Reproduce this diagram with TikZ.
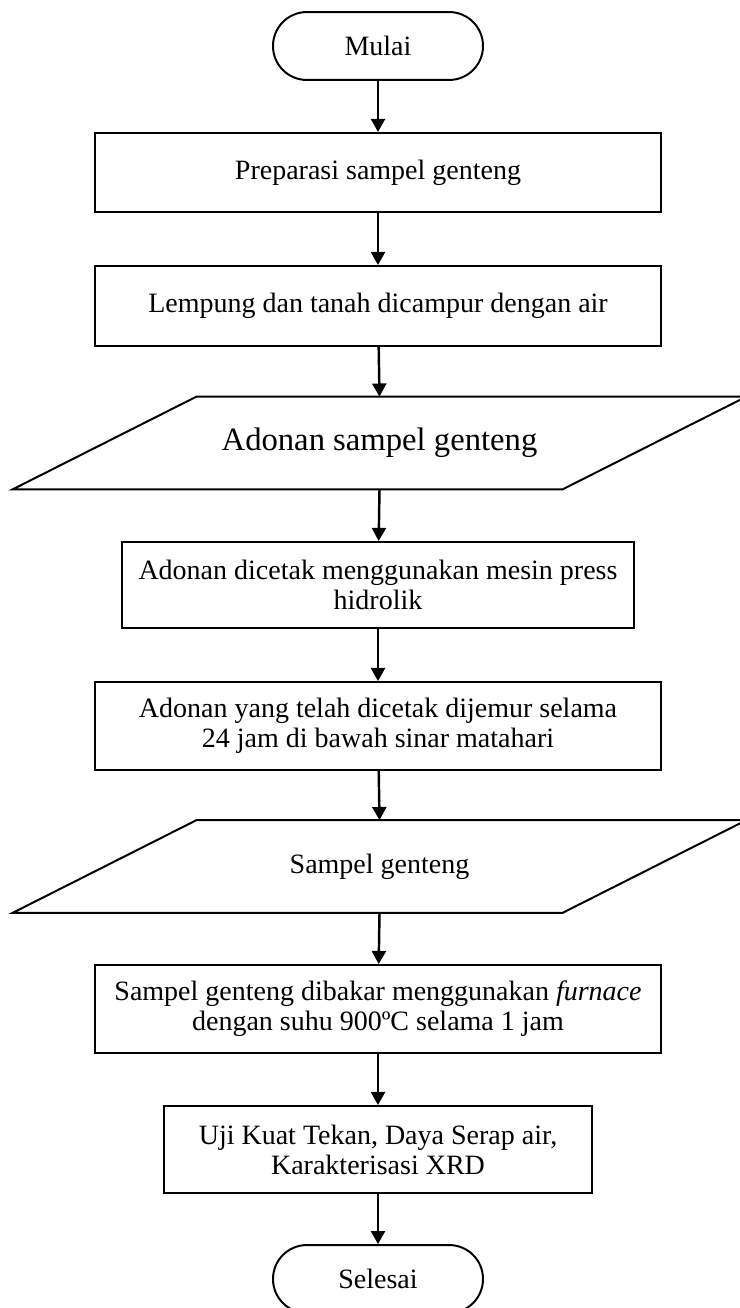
\documentclass[tikz,border=0pt]{standalone}
\usepackage{fontspec}
\setmainfont{Liberation Serif}
\usetikzlibrary{arrows.meta,calc}
\begin{document}
\begin{tikzpicture}[x=0.4286pt,y=-0.4286pt,
  every node/.style={font=\fontsize{12}{12.9}\selectfont, align=center, inner sep=0pt},
  term/.style={draw, line width=0.85pt, rounded corners=14.5pt, minimum width=90pt, minimum height=29.1pt},
  proc/.style={draw, line width=0.85pt},
  io/.style={minimum width=314.2pt, minimum height=39.4pt},
  ioline/.style={line width=0.85pt},
  flow/.style={line width=1.05pt, -{Triangle[length=5.6pt,width=6pt]}}
]
\useasboundingbox (0,0) rectangle (739,1308);
\node[term] (start) at (378,46) {Mulai};
\node[proc, minimum width=242.2pt, minimum height=33.9pt] (b1) at (378,172.5) {Preparasi sampel genteng};
\node[proc, minimum width=242.2pt, minimum height=34.3pt] (b2) at (378,306) {Lempung dan tanah dicampur dengan air};
\node[io] (p1) at (379.5,443) {\fontsize{14}{16}\selectfont Adonan sampel genteng};
\draw[ioline] ([xshift=78.9pt]p1.north west) -- (p1.north east) -- ([xshift=-78.9pt]p1.south east) -- (p1.south west) -- cycle;
\node[proc, minimum width=219.4pt, minimum height=36.9pt] (b3) at (378,585) {Adonan dicetak menggunakan mesin press\\hidrolik};
\node[proc, minimum width=242.2pt, minimum height=37.7pt] (b4) at (378,726) {Adonan yang telah dicetak dijemur selama\\24 jam di bawah sinar matahari};
\node[io] (p2) at (379.5,866.5) {Sampel genteng};
\draw[ioline] ([xshift=78.9pt]p2.north west) -- (p2.north east) -- ([xshift=-78.9pt]p2.south east) -- (p2.south west) -- cycle;
\node[proc, minimum width=242.2pt, minimum height=37.7pt] (b5) at (378,1009) {Sampel genteng dibakar menggunakan \textit{furnace}\\dengan suhu 900ºC selama 1 jam};
\node[proc, minimum width=183.4pt, minimum height=37.3pt] (b6) at (378,1149.5) {Uji Kuat Tekan, Daya Serap air,\\Karakterisasi XRD};
\node[term] (end) at (378,1279) {Selesai};
\draw[flow] (start) -- (b1);
\draw[flow] (b1) -- (b2);
\draw[flow] (b2) -- (p1.north);
\draw[flow] (p1.south) -- (b3);
\draw[flow] (b3) -- (b4);
\draw[flow] (b4) -- (p2.north);
\draw[flow] (p2.south) -- (b5);
\draw[flow] (b5) -- (b6);
\draw[flow] (b6) -- (end);
\end{tikzpicture}
\end{document}
